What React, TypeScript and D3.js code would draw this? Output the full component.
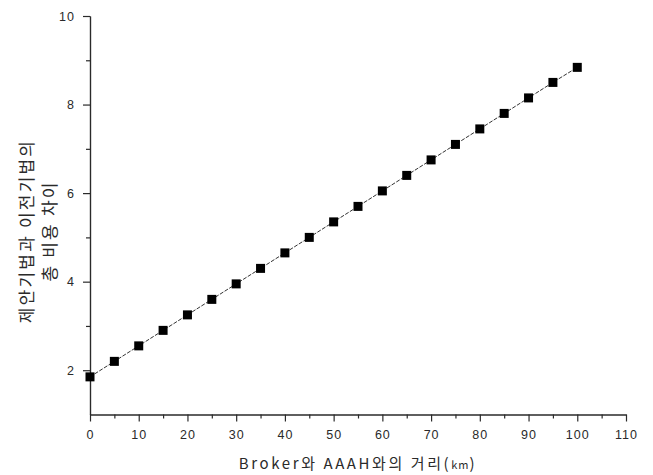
import { useEffect, useRef } from "react";
import * as d3 from "d3";

// distancia (km) y diferencia de coste total
const distancias = [0, 5, 10, 15, 20, 25, 30, 35, 40, 45, 50, 55, 60, 65, 70, 75, 80, 85, 90, 95, 100];
const diferencias = [1.85, 2.2, 2.55, 2.9, 3.25, 3.6, 3.95, 4.3, 4.65, 5.0, 5.35, 5.7, 6.05, 6.4, 6.75, 7.1, 7.45, 7.8, 8.15, 8.5, 8.84];

const xTicksMajor = [0, 10, 20, 30, 40, 50, 60, 70, 80, 90, 100, 110];
const xTicksMinor = [5, 15, 25, 35, 45, 55, 65, 75, 85, 95, 105];
const yTicksMajor = [2, 4, 6, 8, 10];
const yTicksMinor = [3, 5, 7, 9];

const xLabel = "Broker와 AAAH와의 거리";
const yLabel = ["제안기법과 이전기법의", "총 비용 차이"];

const W = 653;
const H = 475;

const App = () => {
  const ref = useRef<SVGSVGElement | null>(null);

  useEffect(() => {
    if (!ref.current) return;
    const svg = d3.select(ref.current);
    svg.selectAll("*").remove();

    const x = d3.scaleLinear().domain([0, 110]).range([90, 626]);
    const y = d3.scaleLinear().domain([1, 10]).range([414.5, 16]);

    const ink = "#2a2a2a";
    const font = "'Liberation Sans', Arial, sans-serif";

    const styleAxis = (g: any) => {
      g.selectAll("path, line").attr("stroke", ink).attr("stroke-width", 1.2);
      g.selectAll("text")
        .attr("fill", ink)
        .style("font-family", font)
        .style("font-size", "12.5px")
        .style("letter-spacing", "1px");
    };

    // eje x
    svg.append("g")
      .attr("transform", `translate(0,${y(1)})`)
      .call(d3.axisBottom(x).tickValues(xTicksMinor).tickFormat(() => "").tickSize(4).tickSizeOuter(0))
      .call(styleAxis);
    svg.append("g")
      .attr("transform", `translate(0,${y(1)})`)
      .call(d3.axisBottom(x).tickValues(xTicksMajor).tickSize(7).tickPadding(9).tickSizeOuter(0))
      .call(styleAxis);

    // eje y
    svg.append("g")
      .attr("transform", `translate(${x(0)},0)`)
      .call(d3.axisLeft(y).tickValues(yTicksMinor).tickFormat(() => "").tickSize(4).tickSizeOuter(0))
      .call(styleAxis);
    svg.append("g")
      .attr("transform", `translate(${x(0)},0)`)
      .call(d3.axisLeft(y).tickValues(yTicksMajor).tickSize(7).tickPadding(8).tickSizeOuter(0))
      .call(styleAxis);

    const datos = distancias.map((d, i) => ({ d, v: diferencias[i] }));

    // línea
    svg.append("path")
      .datum(datos)
      .attr("fill", "none")
      .attr("stroke", "#333")
      .attr("stroke-width", 1)
      .attr("stroke-dasharray", "4,1.5")
      .attr("d", d3.line<any>().x((p) => x(p.d)).y((p) => y(p.v)));

    // marcadores
    const s = 9;
    svg.selectAll(".pt")
      .data(datos)
      .enter()
      .append("rect")
      .attr("x", (p) => x(p.d) - s / 2)
      .attr("y", (p) => y(p.v) - s / 2)
      .attr("width", s)
      .attr("height", s)
      .attr("fill", "#000");

    // etiqueta x
    const xt = svg.append("text")
      .attr("x", (x(0) + x(110)) / 2)
      .attr("y", 469)
      .attr("text-anchor", "middle")
      .attr("fill", ink)
      .style("font-family", "'Noto Sans CJK KR', sans-serif")
      .style("font-size", "15px")
      .style("letter-spacing", "2.6px")
      .text(xLabel);
    xt.append("tspan").text("(");
    xt.append("tspan").style("font-size", "11px").style("letter-spacing", "1px").text("km");
    xt.append("tspan").text(")");

    // etiqueta y
    yLabel.forEach((t, i) => {
      svg.append("text")
        .attr("transform", `translate(${33 + i * 23},231) rotate(-90)`)
        .attr("text-anchor", "middle")
        .attr("fill", ink)
        .style("font-family", "'Noto Sans CJK KR', sans-serif")
        .style("font-size", "17px")
        .style("letter-spacing", "2.2px")
        .text(t);
    });
  }, []);

  return (
    <div style={{ position: "absolute", left: 0, top: 0, background: "#fff" }}>
      <svg ref={ref} width={W} height={H} style={{ display: "block" }} />
    </div>
  );
};

export default App;
